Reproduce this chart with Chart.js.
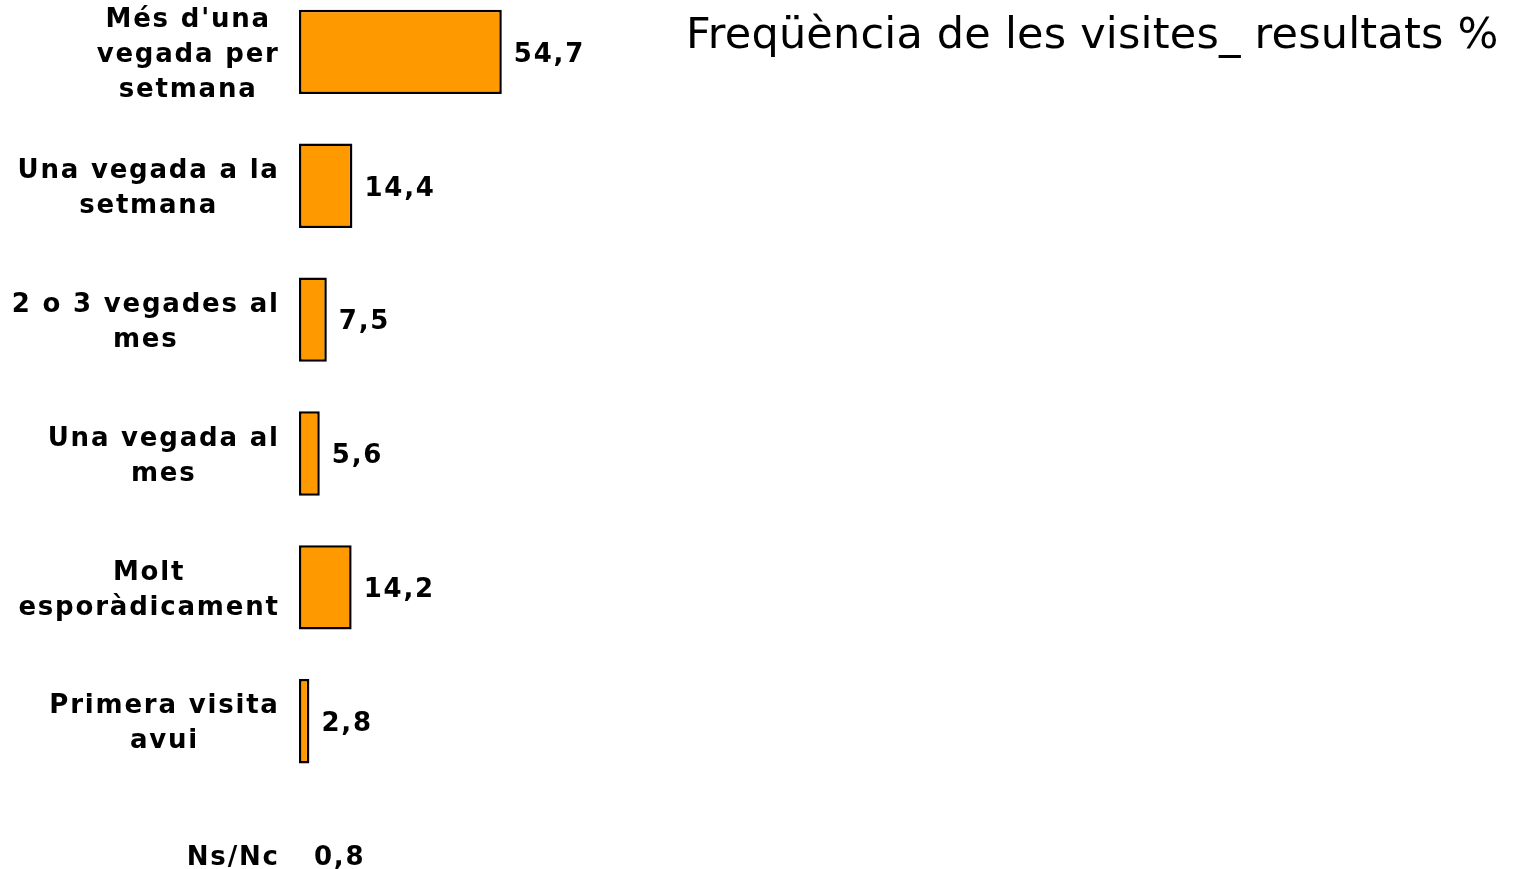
<!DOCTYPE html>
<html>
<head>
<meta charset="utf-8">
<script src="https://cdn.jsdelivr.net/npm/chart.js@4"></script>
<style>
  html, body { margin:0; padding:0; background:#fff; overflow:hidden; width:1515px; height:869px; }
  #wrap { position:absolute; left:0; top:-15px; width:1515px; height:937px; }
  #title { position:absolute; left:686px; top:8px; font-family:"DejaVu Sans",Verdana,sans-serif;
           font-size:43px; letter-spacing:0.2px; color:#000; white-space:nowrap; }
</style>
</head>
<body>
<div id="wrap"><canvas id="chart"></canvas></div>
<div id="title">Freqüència de les visites_ resultats %</div>
<script>
const categories = [
  ["Més d'una", "vegada per", "setmana"],
  ["Una vegada a la", "setmana"],
  ["2 o 3 vegades al", "mes"],
  ["Una vegada al", "mes"],
  ["Molt", "esporàdicament"],
  ["Primera visita", "avui"],
  ["Ns/Nc"]
];
const values = [54.7, 14.4, 7.5, 5.6, 14.2, 2.8, 0.8];
const hiddenBars = ["Ns/Nc"];   // sense barra al original

const FONT = '"DejaVu Sans", Verdana, sans-serif';
const SPACING = 1.8;

// etiquetes de categoria i valors dibuixats a mà (centrades per bloc)
const labelPlugin = {
  id: 'labels',
  afterDatasetsDraw(chart) {
    const ctx = chart.ctx;
    const y = chart.scales.y;
    const meta = chart.getDatasetMeta(0);
    ctx.save();
    ctx.font = 'bold 26px ' + FONT;
    ctx.fillStyle = '#000';
    ctx.letterSpacing = SPACING + 'px';
    ctx.textBaseline = 'middle';
    categories.forEach((lines, i) => {
      const cy = y.getPixelForValue(i) + 3;
      const w = Math.max(...lines.map(l => ctx.measureText(l).width));
      const cx = 277 + SPACING - w / 2;
      ctx.textAlign = 'center';
      lines.forEach((l, k) => {
        ctx.fillText(l, cx + SPACING / 2, cy + (k - (lines.length - 1) / 2) * 35);
      });
      const bar = meta.data[i];
      ctx.textAlign = 'left';
      ctx.fillText(values[i].toFixed(1).replace('.', ','), bar.x + 12, cy);
    });
    ctx.restore();
  }
};

new Chart(document.getElementById('chart'), {
  type: 'bar',
  data: {
    labels: categories,
    datasets: [{
      data: values,
      backgroundColor: c => hiddenBars.includes(categories[c.dataIndex].join(' ')) ? 'transparent' : '#FF9900',
      borderColor: c => hiddenBars.includes(categories[c.dataIndex].join(' ')) ? 'transparent' : '#000',
      borderWidth: 2.5,
      borderSkipped: false,
      barPercentage: 0.63,
      categoryPercentage: 1
    }]
  },
  options: {
    indexAxis: 'y',
    responsive: true,
    maintainAspectRatio: false,
    animation: false,
    layout: { padding: { left: 299, right: 0, top: 0, bottom: 0 } },
    plugins: { legend: { display: false }, tooltip: { enabled: false } },
    scales: {
      x: { display: false, min: 0, max: 328 },
      y: { display: false }
    }
  },
  plugins: [labelPlugin]
});
</script>
</body>
</html>
